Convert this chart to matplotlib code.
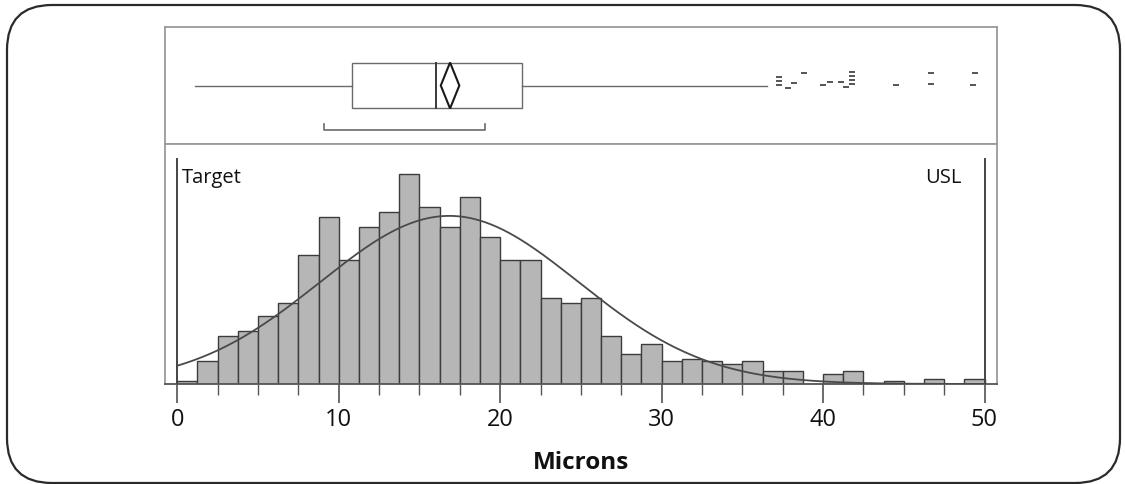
import numpy as np
import matplotlib
matplotlib.use("Agg")
import matplotlib.pyplot as plt
from matplotlib.patches import FancyBboxPatch, Rectangle, Polygon

plt.rcParams['font.family'] = ['Open Sans', 'DejaVu Sans']

# ---------------- data ----------------
bin_width = 1.25
bin_start = 0.0
counts = [1, 9, 19, 21, 27, 32, 51, 66, 49, 62, 68, 83, 70, 62, 74, 58, 49, 49, 34, 32,
          34, 19, 12, 16, 9, 10, 9, 8, 9, 5, 5, 0, 4, 5, 0, 1, 0, 2, 0, 2]
fit_mean = 16.85
fit_sd = 8.0

# box plot summary
whisker_low = 1.1
q1 = 10.85
median = 16.05
q3 = 21.37
whisker_high = 36.5
mean_ci = (16.32, 17.47)
shortest_half = (9.06, 19.06)
outliers = [37.3, 37.3, 37.3, 37.8, 38.2, 38.8, 40.0, 40.4, 41.1, 41.4, 41.8, 41.8, 41.8,
            41.8, 44.5, 46.7, 46.7, 49.3, 49.4]
outlier_jitter = [0.14, 0.075, 0.01, -0.05, 0.04, 0.22, 0.01, 0.06, 0.06, -0.03,
                  0.23, 0.16, 0.09, 0.02, 0.01, 0.22, 0.03, 0.01, 0.22]

spec_target = 0
spec_usl = 50
xticks = [0, 10, 20, 30, 40, 50]
xlabel = "Microns"

# ---------------- figure ----------------
W, H = 1125, 484
fig = plt.figure(figsize=(W / 100, H / 100), dpi=100)

# outer rounded frame
bg = fig.add_axes([0, 0, 1, 1])
bg.set_xlim(0, W)
bg.set_ylim(H, 0)
bg.axis('off')
bg.add_patch(FancyBboxPatch((7, 5), 1113, 478,
                            boxstyle="round,pad=0,rounding_size=45",
                            fill=False, edgecolor='#2a2a2a', linewidth=1.6))

left_px, right_px = 165, 997
x0_px, x50_px = 177.3, 984.5
ppu = (x50_px - x0_px) / 50.0
xlim = ((left_px - x0_px) / ppu, (right_px - x0_px) / ppu)

frame_col = '#9a9a9a'

# ---- box plot panel ----
axb = fig.add_axes([left_px / W, (H - 144) / H, (right_px - left_px) / W, (144 - 27) / H])
axb.set_xlim(*xlim)
axb.set_ylim(-1, 1)
axb.set_xticks([])
axb.set_yticks([])
for s in axb.spines.values():
    s.set_color(frame_col)
    s.set_linewidth(1.3)

box_half = 0.393
line_col = '#6a6a6a'
axb.plot([whisker_low, q1], [0, 0], color=line_col, lw=1)
axb.plot([q3, whisker_high], [0, 0], color=line_col, lw=1)
axb.add_patch(Rectangle((q1, -box_half), q3 - q1, 2 * box_half, fill=False,
                        edgecolor=line_col, lw=1))
axb.plot([median, median], [-box_half, box_half], color='#3a3a3a', lw=1.4)
mcenter = (mean_ci[0] + mean_ci[1]) / 2
axb.add_patch(Polygon([(mean_ci[0], 0), (mcenter, box_half), (mean_ci[1], 0),
                       (mcenter, -box_half)], closed=True, fill=False,
                      edgecolor='#1a1a1a', lw=1.5))
axb.plot([shortest_half[0], shortest_half[0], shortest_half[1], shortest_half[1]],
         [-0.65, -0.764, -0.764, -0.65], color=line_col, lw=1.2)
axb.plot(outliers, outlier_jitter, linestyle='none', marker='_', markersize=4.5,
         markeredgewidth=1.4, color='#555555')

# ---- histogram panel ----
axh = fig.add_axes([left_px / W, (H - 384) / H, (right_px - left_px) / W, 240 / H])
axh.set_xlim(*xlim)
ppc = 2.53
axh.set_ylim(0, 240 / ppc)
edges = bin_start + bin_width * np.arange(len(counts) + 1)
axh.bar(edges[:-1], counts, width=bin_width, align='edge', color='#b6b6b6',
        edgecolor='#3c3c3c', linewidth=1.0, zorder=2)

xs = np.linspace(spec_target, spec_usl, 400)
n_total = sum(counts)
curve = n_total * bin_width / (fit_sd * np.sqrt(2 * np.pi)) * np.exp(-0.5 * ((xs - fit_mean) / fit_sd) ** 2)
axh.plot(xs, curve, color='#4a4a4a', lw=1.3, zorder=3)

line_top = (384 - 159) / ppc
axh.plot([spec_target, spec_target], [0, line_top], color='#444444', lw=1.4, zorder=4)
axh.plot([spec_usl, spec_usl], [0, line_top], color='#444444', lw=1.4, zorder=4)
axh.text(spec_target + 0.3, (384 - 178) / ppc, "Target", fontsize=14.5, va='center', ha='left',
         color='#111111')
axh.text(spec_usl - 1.45, (384 - 178) / ppc, "USL", fontsize=14.5, va='center', ha='right',
         color='#111111')

for side in ['left', 'right', 'top']:
    axh.spines[side].set_color(frame_col)
    axh.spines[side].set_linewidth(1.3)
axh.spines['bottom'].set_color('#555555')
axh.spines['bottom'].set_linewidth(1.3)
axh.set_yticks([])
axh.set_xticks(xticks)
axh.set_xticks(np.arange(0, 50.01, 2.5), minor=True)
axh.tick_params(axis='x', which='major', length=14, width=1.1, color='#444444',
                labelsize=17, pad=3, labelcolor='#111111')
axh.tick_params(axis='x', which='minor', length=8, width=1.0, color='#555555')
axh.set_xlabel(xlabel, fontsize=17.5, fontweight='bold', labelpad=14, color='#111111')

fig.savefig("out.png", dpi=100)
